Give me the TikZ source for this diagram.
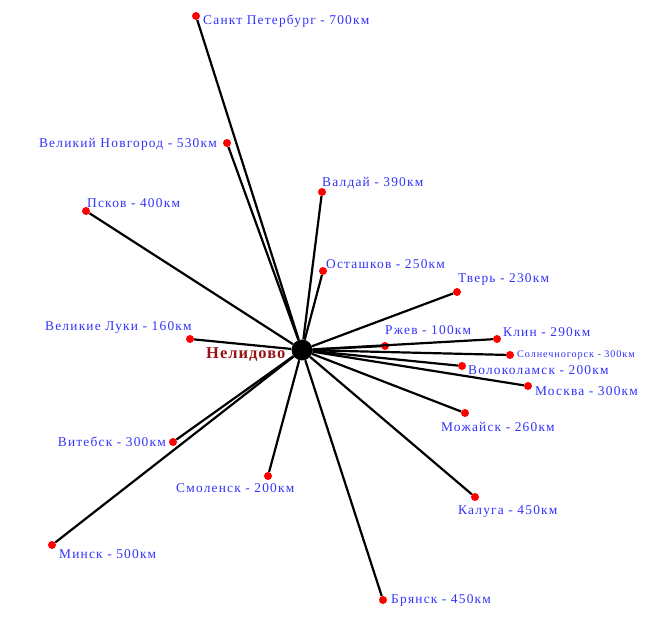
\documentclass[tikz,border=0pt]{standalone}
\usepackage{fontspec}
\setmainfont{Liberation Serif}
\newfontfamily\lblfont[LetterSpace=9]{Liberation Serif}
\newfontfamily\hubfont[LetterSpace=6]{Liberation Serif}
\definecolor{lblblue}{RGB}{50,50,250}
\definecolor{darkred}{RGB}{150,20,20}
\begin{document}
\begin{tikzpicture}[x=1pt,y=-1pt,
  city/.style={circle,fill=red,inner sep=0pt,minimum size=8pt},
  hub/.style={circle,fill=black,inner sep=0pt,minimum size=21pt},
  lbl/.style={text=lblblue,inner sep=0pt,font=\lblfont\fontsize{13.4}{15}\selectfont},
  small/.style={text=lblblue,inner sep=0pt,font=\lblfont\fontsize{10.2}{12}\selectfont},
  hublbl/.style={text=darkred,inner sep=0pt,font=\hubfont\bfseries\fontsize{16.5}{18}\selectfont},
  link/.style={draw=black,line width=2.2pt}]
\useasboundingbox (0,0) rectangle (670,620);
\node[hub] (c) at (302,350) {};
\node[city] (spb) at (196,16) {};
\node[city] (nov) at (227,143) {};
\node[city] (val) at (322,192) {};
\node[city] (psk) at (86,211) {};
\node[city] (ost) at (323,271) {};
\node[city] (tve) at (457,292) {};
\node[city] (vl) at (190,339) {};
\node[city] (rzh) at (385,346) {};
\node[city] (kli) at (497,339) {};
\node[city] (sol) at (510,355) {};
\node[city] (vol) at (462,366) {};
\node[city] (mos) at (528,386) {};
\node[city] (moz) at (465,413) {};
\node[city] (vit) at (173,442) {};
\node[city] (smo) at (268,476) {};
\node[city] (kal) at (475,497) {};
\node[city] (min) at (52,545) {};
\node[city] (bry) at (383,600) {};
\foreach \n in {spb,nov,val,psk,ost,tve,vl,kli,rzh,sol,vol,mos,moz,vit,smo,kal,min,bry}
  \draw[link] (c) -- (\n);
\node[lbl,anchor=base west] (spbl) at (203,24.5) {Санкт Петербург - 700км};
\node[lbl,anchor=base east] (novl) at (217,147.5) {Великий Новгород - 530км};
\node[lbl,anchor=base west] (vall) at (322,186.5) {Валдай - 390км};
\node[lbl,anchor=base west] (pskl) at (87,207.5) {Псков - 400км};
\node[lbl,anchor=base west] (ostl) at (326,268.5) {Осташков - 250км};
\node[lbl,anchor=base west] (tvel) at (458,282.5) {Тверь - 230км};
\node[lbl,anchor=base west] (vll) at (45,330.5) {Великие Луки - 160км};
\node[lbl,anchor=base west] (rzhl) at (385,334.5) {Ржев - 100км};
\node[lbl,anchor=base west] (klil) at (503,336.5) {Клин - 290км};
\node[small,anchor=base west] (soll) at (517,358) {Солнечногорск - 300км};
\node[lbl,anchor=base west] (voll) at (468,374.5) {Волоколамск - 200км};
\node[lbl,anchor=base west] (mosl) at (535,395.5) {Москва - 300км};
\node[lbl,anchor=base west] (mozl) at (441,431.5) {Можайск - 260км};
\node[lbl,anchor=base east] (vitl) at (166,446.5) {Витебск - 300км};
\node[lbl,anchor=base west] (smol) at (176,492.5) {Смоленск - 200км};
\node[lbl,anchor=base west] (kall) at (458,514.5) {Калуга - 450км};
\node[lbl,anchor=base west] (minl) at (59,558.5) {Минск - 500км};
\node[lbl,anchor=base west] (bryl) at (391,603.5) {Брянск - 450км};
\node[hublbl,anchor=base west] (nel) at (206,359) {Нелидово};
\end{tikzpicture}
\end{document}
